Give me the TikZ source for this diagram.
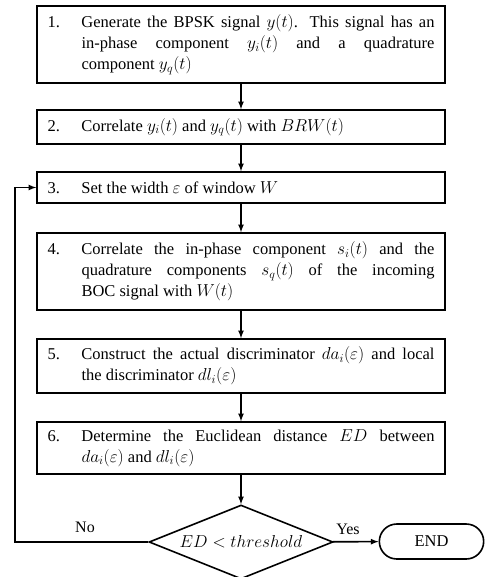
\documentclass[tikz,border=0pt]{standalone}
\usepackage{fontspec}
\setmainfont{Liberation Serif}
\usetikzlibrary{shapes.geometric,shapes.misc}

\newcommand{\steptext}[2]{\makebox[34pt][l]{#1}\parbox[t]{353pt}{\rightskip=0pt\parfillskip=0pt plus 1fil\spaceskip=0pt\xspaceskip=0pt\hyphenpenalty=10000\exhyphenpenalty=10000 #2}}
\tikzset{
  stepbox/.style={draw, line width=1.6pt, text width=387pt, inner xsep=10.5pt,
    inner ysep=4pt, align=left, font=\fontsize{16.5}{21}\selectfont},
  decision/.style={draw, diamond, aspect=2.5, line width=1.6pt, minimum width=184pt,
    minimum height=74pt, inner sep=0pt, font=\fontsize{16.5}{21}\selectfont},
  terminal/.style={draw, rounded rectangle, line width=1.6pt, minimum width=111pt,
    minimum height=35pt, font=\fontsize{16.5}{21}\selectfont},
  lbl/.style={font=\fontsize{16}{21}\selectfont},
  flow/.style={line width=1.6pt, -latex}
}

\begin{document}
\begin{tikzpicture}[x=1pt,y=-1pt]
    \useasboundingbox (0,0) rectangle (486,577);
    \node[stepbox, minimum height=77pt] (s1) at (241,44.5)
      {\steptext{1.}{Generate the BPSK signal $y(t)$. This signal has an\linebreak in-phase component $y_i(t)$ and a quadrature\linebreak component $y_q(t)$}};
    \node[stepbox, minimum height=34pt] (s2) at (241,127)
      {\steptext{2.}{Correlate $y_i(t)$ and $y_q(t)$ with $BRW(t)$}};
    \node[stepbox, minimum height=31pt] (s3) at (241,187.5)
      {\steptext{3.}{Set the width $\varepsilon$ of window $W$}};
    \node[stepbox, minimum height=77pt] (s4) at (241,271.5)
      {\steptext{4.}{Correlate the in-phase component $s_i(t)$ and the\linebreak quadrature components $s_q(t)$ of the incoming\linebreak BOC signal with $W(t)$}};
    \node[stepbox, minimum height=54pt] (s5) at (241,366)
      {\steptext{5.}{Construct the actual discriminator $da_i(\varepsilon)$ and local\linebreak the discriminator $dl_i(\varepsilon)$}};
    \node[stepbox, minimum height=52pt] (s6) at (241,448)
      {\steptext{6.}{Determine the Euclidean distance $ED$ between\linebreak $da_i(\varepsilon)$ and $dl_i(\varepsilon)$}};
    \node[decision] (test) at (241,542) {$ED < threshold$};
    \node[terminal] (stop) at (431.5,541.5) {END};
    \node[lbl] (lblno) at (85,527) {No};
    \node[lbl] (lblyes) at (348,529) {Yes};
    \coordinate (back) at (15,542);

    \draw[flow] (s1) -- (s2);
    \draw[flow] (s2) -- (s3);
    \draw[flow] (s3) -- (s4);
    \draw[flow] (s4) -- (s5);
    \draw[flow] (s5) -- (s6);
    \draw[flow] (s6) -- (test);
    \draw[flow] (test) -- (stop);
    \draw[flow] (test.west) -- (back) |- (s3.west);
\end{tikzpicture}
\end{document}
